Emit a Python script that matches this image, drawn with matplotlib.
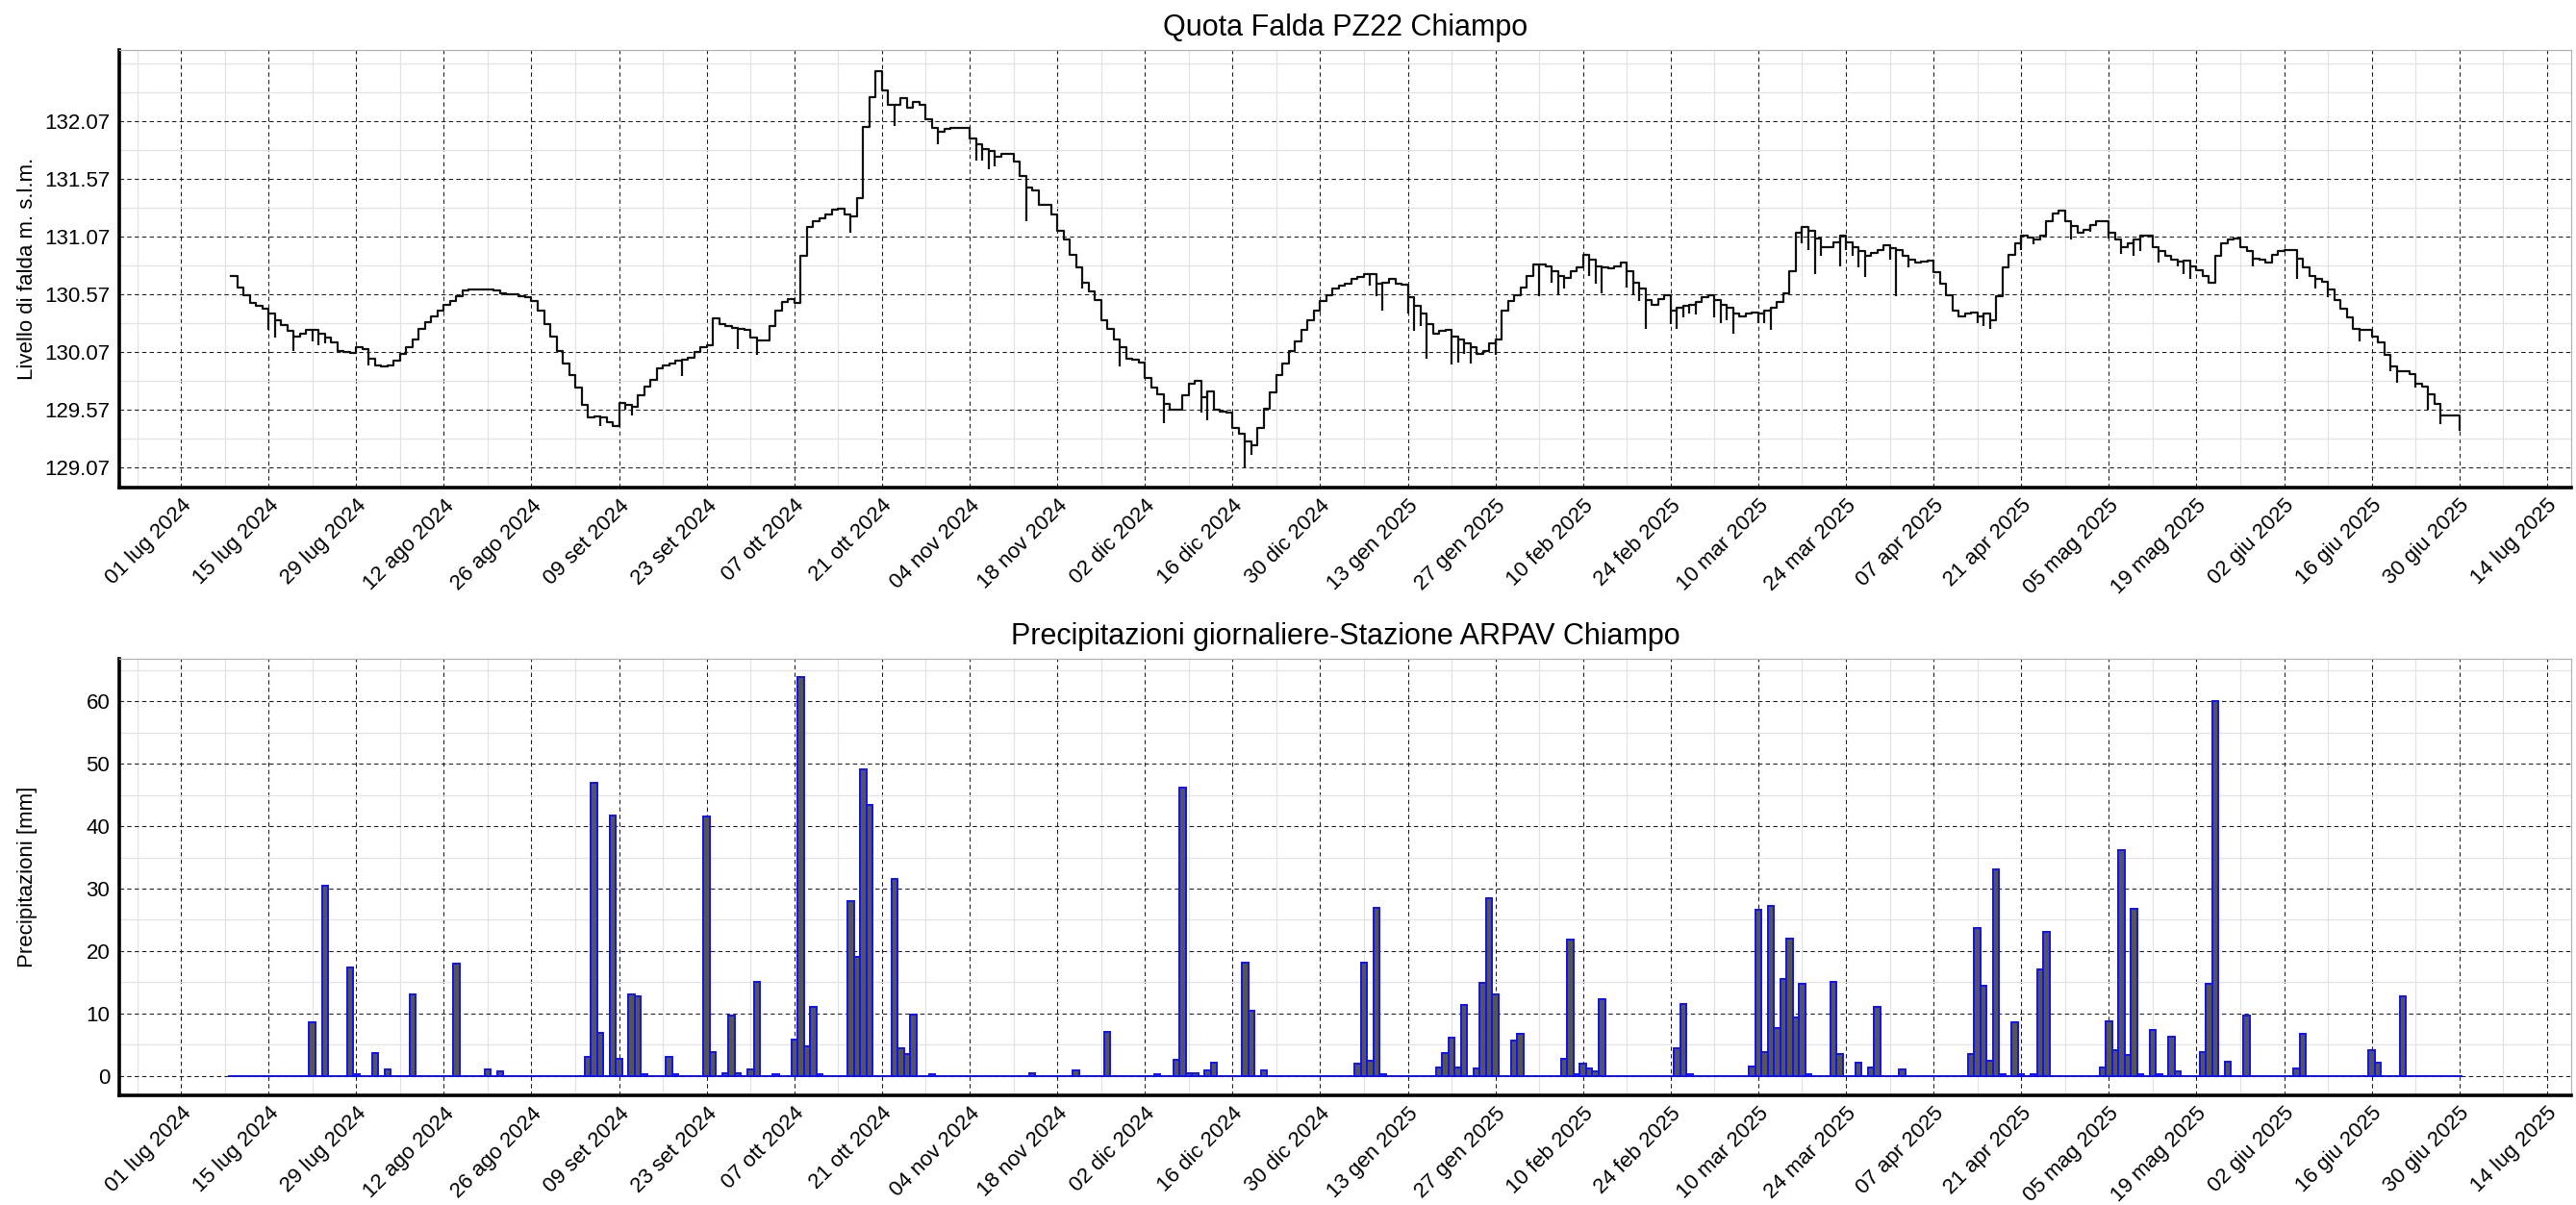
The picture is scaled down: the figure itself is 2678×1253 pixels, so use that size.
import numpy as np
import pandas as pd
import matplotlib
matplotlib.use("Agg")
import matplotlib.pyplot as plt
import matplotlib.dates as mdates
from matplotlib.ticker import FixedLocator

plt.rcParams['font.family'] = ['Liberation Sans', 'DejaVu Sans']

# quota di falda giornaliera (m s.l.m.), dal 9 lug 2024 al 30 giu 2025
lug24 = [130.73, 130.63, 130.56, 130.49, 130.47, 130.44, 130.40, 130.34, 130.30, 130.25,
         130.20, 130.23, 130.26, 130.26, 130.23, 130.19, 130.15, 130.08, 130.07, 130.06,
         130.11, 130.09, 130.01]
ago24 = [129.95, 129.94, 129.95, 129.99, 130.05, 130.11, 130.18, 130.27, 130.33, 130.38,
         130.43, 130.48, 130.51, 130.55, 130.60, 130.61, 130.61, 130.61, 130.61, 130.60,
         130.58, 130.57, 130.57, 130.55, 130.54, 130.51, 130.43, 130.31, 130.20, 130.08,
         129.97]
set24 = [129.87, 129.76, 129.61, 129.50, 129.51, 129.50, 129.46, 129.43, 129.63, 129.61,
         129.59, 129.69, 129.77, 129.83, 129.93, 129.95, 129.97, 129.99, 130.00, 130.02,
         130.07, 130.11, 130.13, 130.36, 130.31, 130.29, 130.28, 130.27, 130.26, 130.19]
ott24 = [130.17, 130.17, 130.29, 130.43, 130.50, 130.53, 130.49, 130.90, 131.15, 131.20,
         131.23, 131.26, 131.30, 131.31, 131.26, 131.24, 131.40, 132.02, 132.28, 132.50,
         132.34, 132.21, 132.21, 132.27, 132.19, 132.24, 132.21, 132.09, 132.01, 131.98,
         132.00]
nov24 = [132.01, 132.01, 132.01, 131.92, 131.87, 131.83, 131.81, 131.76, 131.79, 131.79,
         131.72, 131.59, 131.49, 131.47, 131.34, 131.34, 131.26, 131.12, 131.04, 130.91,
         130.80, 130.67, 130.59, 130.52, 130.34, 130.27, 130.18, 130.11, 130.01, 130.00]
dic24 = [129.98, 129.84, 129.76, 129.70, 129.62, 129.57, 129.57, 129.69, 129.79, 129.82,
         129.68, 129.73, 129.57, 129.55, 129.54, 129.41, 129.36, 129.29, 129.26, 129.41,
         129.58, 129.72, 129.87, 129.97, 130.08, 130.16, 130.26, 130.34, 130.43, 130.51,
         130.56]
gen25 = [130.62, 130.64, 130.66, 130.70, 130.72, 130.74, 130.74, 130.66, 130.67, 130.70,
         130.66, 130.65, 130.54, 130.47, 130.40, 130.31, 130.23, 130.25, 130.26, 130.20,
         130.18, 130.14, 130.11, 130.05, 130.08, 130.14, 130.18, 130.43, 130.51, 130.56,
         130.63]
feb25 = [130.73, 130.83, 130.83, 130.81, 130.77, 130.73, 130.71, 130.77, 130.80, 130.91,
         130.87, 130.81, 130.80, 130.79, 130.81, 130.84, 130.77, 130.67, 130.62, 130.52,
         130.48, 130.53, 130.56, 130.43, 130.45, 130.47, 130.48, 130.50]
mar25 = [130.54, 130.56, 130.52, 130.48, 130.45, 130.40, 130.38, 130.40, 130.41, 130.40,
         130.43, 130.45, 130.50, 130.58, 130.77, 131.10, 131.15, 131.12, 131.05, 130.98,
         130.98, 131.02, 131.08, 131.02, 130.98, 130.94, 130.90, 130.93, 130.95, 130.99,
         130.97]
apr25 = [130.95, 130.90, 130.87, 130.84, 130.85, 130.86, 130.76, 130.66, 130.56, 130.43,
         130.38, 130.40, 130.41, 130.38, 130.40, 130.34, 130.55, 130.80, 130.91, 131.01,
         131.08, 131.06, 131.04, 131.08, 131.20, 131.27, 131.29, 131.20, 131.16, 131.10]
mag25 = [131.13, 131.17, 131.20, 131.20, 131.10, 131.04, 130.98, 131.01, 131.04, 131.08,
         131.08, 130.98, 130.94, 130.90, 130.87, 130.85, 130.86, 130.81, 130.78, 130.73,
         130.67, 130.90, 131.01, 131.04, 131.05, 130.98, 130.94, 130.88, 130.87, 130.84,
         130.91]
giu25 = [130.94, 130.95, 130.95, 130.88, 130.80, 130.73, 130.70, 130.68, 130.61, 130.52,
         130.44, 130.37, 130.27, 130.26, 130.26, 130.20, 130.15, 130.04, 129.94, 129.90,
         129.90, 129.88, 129.79, 129.77, 129.70, 129.62, 129.52, 129.52, 129.52, 129.39]

# brevi abbassamenti registrati durante la giornata
dip_days = ["2024-07-15", "2024-07-16", "2024-07-19", "2024-07-22", "2024-07-23", "2024-07-24",
            "2024-07-31", "2024-09-06", "2024-09-10", "2024-09-11", "2024-09-19", "2024-09-28",
            "2024-10-01", "2024-10-16", "2024-10-23", "2024-10-30", "2024-11-05", "2024-11-06",
            "2024-11-07", "2024-11-08", "2024-11-13", "2024-11-22", "2024-11-28", "2024-12-05",
            "2024-12-11", "2024-12-12", "2024-12-18", "2024-12-19", "2025-01-07", "2025-01-08",
            "2025-01-09", "2025-01-13", "2025-01-14", "2025-01-15", "2025-01-16", "2025-01-20",
            "2025-01-21", "2025-01-22", "2025-01-23", "2025-01-27", "2025-02-03", "2025-02-05",
            "2025-02-06", "2025-02-07", "2025-02-11", "2025-02-12", "2025-02-13", "2025-02-17",
            "2025-02-18", "2025-02-19", "2025-02-20", "2025-02-24", "2025-02-25", "2025-02-26",
            "2025-02-27", "2025-02-28", "2025-03-03", "2025-03-04", "2025-03-05", "2025-03-06",
            "2025-03-10", "2025-03-11", "2025-03-12", "2025-03-17", "2025-03-18", "2025-03-19",
            "2025-03-20", "2025-03-23", "2025-03-24", "2025-03-25", "2025-03-26", "2025-03-27",
            "2025-03-31", "2025-04-01", "2025-04-03", "2025-04-14", "2025-04-15", "2025-04-16",
            "2025-04-21", "2025-04-23", "2025-04-29", "2025-05-02", "2025-05-05", "2025-05-07",
            "2025-05-09", "2025-05-10", "2025-05-13", "2025-05-16", "2025-05-17", "2025-05-18",
            "2025-05-28", "2025-06-04", "2025-06-07", "2025-06-09", "2025-06-14", "2025-06-19",
            "2025-06-20", "2025-06-23", "2025-06-25", "2025-06-27"]
dip_low = [130.26, 130.19, 130.08, 130.16, 130.13, 130.14, 129.95, 129.43, 129.57, 129.52,
           129.86, 130.09, 130.04, 131.10, 132.03, 131.87, 131.73, 131.73, 131.65, 131.68,
           131.20, 130.62, 129.94, 129.45, 129.54, 129.48, 129.07, 129.18, 130.64, 130.55,
           130.43, 130.40, 130.25, 130.29, 130.01, 129.96, 129.98, 130.05, 129.97, 130.04,
           130.55, 130.67, 130.56, 130.62, 130.73, 130.66, 130.58, 130.63, 130.56, 130.51,
           130.27, 130.31, 130.27, 130.37, 130.40, 130.39, 130.37, 130.32, 130.34, 130.23,
           130.32, 130.32, 130.26, 131.01, 130.95, 130.74, 130.90, 130.81, 130.95, 130.90,
           130.80, 130.72, 130.87, 130.55, 130.80, 130.32, 130.29, 130.27, 130.95, 131.00,
           131.04, 131.11, 131.05, 130.92, 130.90, 130.94, 130.84, 130.81, 130.74, 130.70,
           130.81, 130.70, 130.62, 130.54, 130.16, 129.90, 129.80, 129.76, 129.57, 129.44]

# precipitazione giornaliera (mm), giorni piovosi
rain_days = ["2024-07-22", "2024-07-24", "2024-07-28", "2024-07-29", "2024-08-01", "2024-08-03",
             "2024-08-07", "2024-08-14", "2024-08-19", "2024-08-21", "2024-09-04", "2024-09-05",
             "2024-09-06", "2024-09-08", "2024-09-09", "2024-09-11", "2024-09-12", "2024-09-13",
             "2024-09-17", "2024-09-18", "2024-09-23", "2024-09-24", "2024-09-26", "2024-09-27",
             "2024-09-28", "2024-09-30", "2024-10-01", "2024-10-04", "2024-10-07", "2024-10-08",
             "2024-10-09", "2024-10-10", "2024-10-11", "2024-10-16", "2024-10-17", "2024-10-18",
             "2024-10-19", "2024-10-23", "2024-10-24", "2024-10-25", "2024-10-26", "2024-10-29",
             "2024-11-14", "2024-11-21", "2024-11-26", "2024-12-04", "2024-12-07", "2024-12-08",
             "2024-12-09", "2024-12-10", "2024-12-12", "2024-12-13", "2024-12-18", "2024-12-19",
             "2024-12-21", "2025-01-05", "2025-01-06", "2025-01-07", "2025-01-08", "2025-01-09",
             "2025-01-18", "2025-01-19", "2025-01-20", "2025-01-21", "2025-01-22", "2025-01-24",
             "2025-01-25", "2025-01-26", "2025-01-27", "2025-01-30", "2025-01-31", "2025-02-07",
             "2025-02-08", "2025-02-09", "2025-02-10", "2025-02-11", "2025-02-12", "2025-02-13",
             "2025-02-25", "2025-02-26", "2025-02-27", "2025-03-09", "2025-03-10", "2025-03-11",
             "2025-03-12", "2025-03-13", "2025-03-14", "2025-03-15", "2025-03-16", "2025-03-17",
             "2025-03-18", "2025-03-22", "2025-03-23", "2025-03-26", "2025-03-28", "2025-03-29",
             "2025-04-02", "2025-04-13", "2025-04-14", "2025-04-15", "2025-04-16", "2025-04-17",
             "2025-04-18", "2025-04-20", "2025-04-21", "2025-04-23", "2025-04-24", "2025-04-25",
             "2025-05-04", "2025-05-05", "2025-05-06", "2025-05-07", "2025-05-08", "2025-05-09",
             "2025-05-10", "2025-05-12", "2025-05-13", "2025-05-15", "2025-05-16", "2025-05-20",
             "2025-05-21", "2025-05-22", "2025-05-24", "2025-05-27", "2025-06-04", "2025-06-05",
             "2025-06-16", "2025-06-17", "2025-06-21"]
rain_mm = [8.6, 30.4, 17.3, 0.3, 3.7, 1.0,
           13.1, 18.0, 1.0, 0.8, 3.1, 46.9,
           6.9, 41.7, 2.7, 13.1, 12.7, 0.3,
           3.1, 0.3, 41.5, 3.9, 0.5, 9.6,
           0.5, 1.0, 15.0, 0.3, 5.8, 63.9,
           4.8, 11.0, 0.3, 28.0, 19.1, 49.1,
           43.4, 31.5, 4.5, 3.5, 9.8, 0.3,
           0.5, 0.9, 7.1, 0.3, 2.6, 46.1,
           0.5, 0.5, 0.9, 2.2, 18.1, 10.5,
           0.9, 2.0, 18.1, 2.5, 26.9, 0.3,
           1.4, 3.7, 6.1, 1.4, 11.3, 1.2,
           14.9, 28.4, 13.0, 5.6, 6.8, 2.7,
           21.8, 0.3, 2.0, 1.2, 0.8, 12.3,
           4.5, 11.5, 0.3, 1.5, 26.6, 3.9,
           27.2, 7.7, 15.5, 22.0, 9.4, 14.8,
           0.3, 15.0, 3.5, 2.2, 1.4, 11.0,
           1.1, 3.5, 23.7, 14.4, 2.5, 33.1,
           0.3, 8.6, 0.3, 0.3, 17.0, 23.0,
           1.4, 8.8, 4.1, 36.1, 3.3, 26.8,
           0.3, 7.3, 0.3, 6.3, 0.8, 3.9,
           14.8, 60.0, 2.3, 9.6, 1.2, 6.7,
           4.1, 2.2, 12.8]

tick_labels = ["01 lug 2024", "15 lug 2024", "29 lug 2024", "12 ago 2024", "26 ago 2024",
               "09 set 2024", "23 set 2024", "07 ott 2024", "21 ott 2024", "04 nov 2024",
               "18 nov 2024", "02 dic 2024", "16 dic 2024", "30 dic 2024", "13 gen 2025",
               "27 gen 2025", "10 feb 2025", "24 feb 2025", "10 mar 2025", "24 mar 2025",
               "07 apr 2025", "21 apr 2025", "05 mag 2025", "19 mag 2025", "02 giu 2025",
               "16 giu 2025", "30 giu 2025", "14 lug 2025"]

level = lug24 + ago24 + set24 + ott24 + nov24 + dic24 + gen25 + feb25 + mar25 + apr25 + mag25 + giu25
days = pd.date_range("2024-07-09", periods=len(level), freq="D")
level_s = pd.Series(level, index=days)

dip_x = pd.to_datetime(dip_days)
dip_top = level_s.reindex(dip_x).values

rain = pd.Series(0.0, index=pd.date_range("2024-07-09", "2025-06-30", freq="D"))
rain[pd.to_datetime(rain_days)] = rain_mm

ticks = mdates.date2num(pd.date_range("2024-07-01", periods=len(tick_labels), freq="14D"))
minor_x = ticks - 7
x0 = ticks[0] - 9.85
x1 = ticks[-1] + 3.85

fig = plt.figure(figsize=(26.78, 12.53), dpi=100)
ax1 = fig.add_axes([0.0463, 0.5954, 0.9518, 0.3631])
ax2 = fig.add_axes([0.0463, 0.0910, 0.9518, 0.3623])


def style_axes(ax):
    ax.set_axisbelow(True)
    ax.set_xlim(x0, x1)
    ax.xaxis.set_major_locator(FixedLocator(ticks))
    ax.xaxis.set_minor_locator(FixedLocator(minor_x))
    ax.set_xticklabels(tick_labels, rotation=45, ha="right", va="top", rotation_mode="anchor")
    ax.grid(which="major", color="#222222", linestyle=(0, (4, 3)), linewidth=0.8)
    ax.grid(which="minor", color="#e3e3e3", linestyle="-", linewidth=0.9)
    ax.tick_params(which="both", length=0, labelsize=16)
    ax.tick_params(axis="x", pad=6)
    ax.tick_params(axis="y", pad=7)
    for side in ["left", "bottom"]:
        ax.spines[side].set_linewidth(2.6)
        ax.spines[side].set_color("black")
    for side in ["top", "right"]:
        ax.spines[side].set_linewidth(0.9)
        ax.spines[side].set_color("#b4b4b4")


# livello di falda
ax1.plot(days, level, drawstyle="steps-post", color="#111111", linewidth=1.6)
ax1.vlines(dip_x, dip_low, dip_top, color="#111111", linewidth=1.6)
style_axes(ax1)
ax1.set_ylim(128.894, 132.686)
ax1.yaxis.set_major_locator(FixedLocator(np.arange(129.07, 132.1, 0.5)))
ax1.yaxis.set_minor_locator(FixedLocator(np.arange(129.32, 132.6, 0.25)))
ax1.yaxis.set_major_formatter(lambda v, p: f"{v:.2f}")
ax1.set_title("Quota Falda PZ22 Chiampo", fontsize=22, pad=11)
ax1.set_ylabel("Livello di falda m. s.l.m.", fontsize=16)
ax1.yaxis.set_label_coords(-0.0333, 0.5)

# precipitazioni
ax2.bar(rain.index, rain.values, width=1.0, color="#555555", edgecolor="#1010ff", linewidth=1.4)
style_axes(ax2)
ax2.set_ylim(-3.1, 66.8)
ax2.yaxis.set_major_locator(FixedLocator(np.arange(0, 61, 10)))
ax2.yaxis.set_minor_locator(FixedLocator(np.arange(5, 66, 10)))
ax2.set_title("Precipitazioni giornaliere-Stazione ARPAV Chiampo", fontsize=22, pad=11)
ax2.set_ylabel("Precipitazioni [mm]", fontsize=16)
ax2.yaxis.set_label_coords(-0.0333, 0.5)

fig.savefig("out.png", dpi=100)
